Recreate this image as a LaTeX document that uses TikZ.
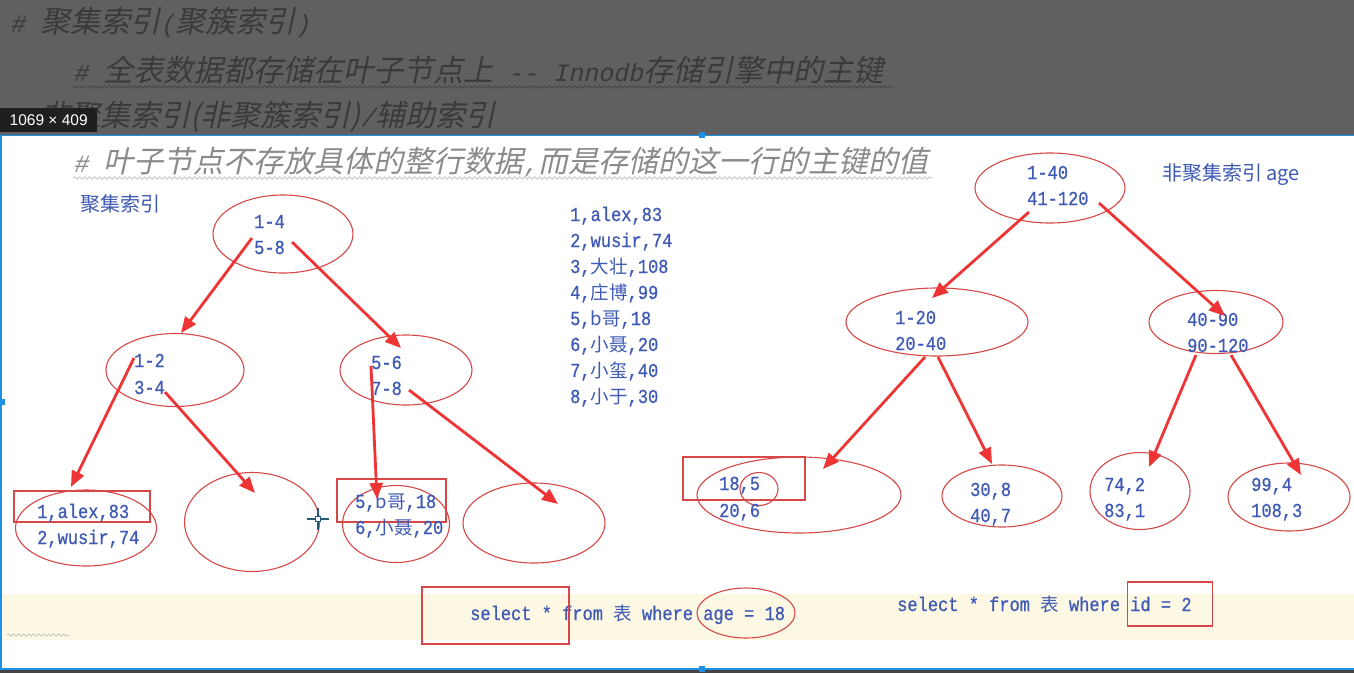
\documentclass[tikz,border=0pt]{standalone}
\usepackage{fontspec}
\setmonofont{Liberation Mono}[FakeStretch=0.86, FakeBold=0.7]
\newfontfamily\cjk{Noto Sans CJK SC}
\newfontfamily\cjkit{Noto Sans CJK SC}[FakeSlant=0.22]
\newfontfamily\monoit{Liberation Mono}[FakeSlant=0.22]
\newfontfamily\uisans{Liberation Sans}
\usetikzlibrary{shapes.geometric,arrows.meta,decorations.pathmorphing}
\definecolor{inkblue}{RGB}{62,90,180}
\definecolor{penred}{RGB}{214,72,72}
\definecolor{arrowred}{RGB}{238,52,52}
\definecolor{darkbg}{RGB}{96,96,96}
\definecolor{dimtext}{RGB}{58,58,58}
\definecolor{graytext}{RGB}{138,138,138}
\definecolor{selblue}{RGB}{30,144,230}
\definecolor{bandyellow}{RGB}{253,248,228}
\definecolor{cursorteal}{RGB}{40,90,115}
\newcommand\hl[1]{{\fontsize{25}{25}\selectfont\monoit #1}}
\newcommand\hz[1]{{\fontsize{30}{30}\selectfont\cjkit #1}}
\newcommand\zh[1]{{\cjk\fontsize{18.5}{18.5}\selectfont #1}}
\tikzset{
  oval/.style={draw=penred, line width=1.1pt, ellipse, inner sep=0pt},
  redbox/.style={draw=penred, line width=1.2pt},
  redarrow/.style={draw=arrowred, line width=2.8pt, -{Triangle[length=16pt,width=13pt]}},
  bluetext/.style={text=inkblue, font=\fontsize{19.8}{19.8}\selectfont\ttfamily, anchor=base west, inner sep=0pt},
  cjklabel/.style={text=inkblue, font=\cjk\fontsize{20}{20}\selectfont, anchor=base west, inner sep=0pt},
  headtext/.style={anchor=base west, inner sep=0pt},
  wavy/.style={line width=0.7pt, decorate, decoration={snake, amplitude=1.3pt, segment length=5pt}}
}
\begin{document}
\begin{tikzpicture}[x=1pt,y=-1pt]
\useasboundingbox (0,0) rectangle (1354,673);
% backgrounds
\fill[darkbg] (0,0) rectangle (1354,136);
\fill[white] (0,136) rectangle (1354,670);
\fill[darkbg!70!black] (0,670) rectangle (1354,673);
\fill[bandyellow] (3,594) rectangle (1354,640);
% headings in dimmed area
\node[headtext, text=dimtext] (h1) at (10,32) {\hl{\# }\hz{聚集索引}\hl{(}\hz{聚簇索引}\hl{)}};
\node[headtext, text=dimtext] (h2) at (73,81) {\hl{\# }\hz{全表数据都存储在叶子节点上}\hl{ -{}- Innodb}\hz{存储引擎中的主键}};
\draw[wavy, draw=dimtext!80!darkbg] (73,87) -- (893,87);
\node[headtext, text=dimtext] (h3) at (10,126) {\hl{\# }\hz{非聚集索引(非聚簇索引)}\hl{/}\hz{辅助索引}};
\node[headtext, text=graytext] (h4) at (73,172) {\hl{\# }\hz{叶子节点不存放具体的整行数据}\hl{,}\hz{而是存储的这一行的主键的值}};
\draw[wavy, draw=black!25] (73,178) -- (933,178);
\draw[wavy, draw=black!25] (7,635) -- (70,635);
% size label
\node[fill=black!88, text=white, font=\uisans\fontsize{15.5}{15.5}\selectfont, inner sep=0pt, minimum width=97pt, minimum height=24pt, anchor=north west] (sizelabel) at (0,108) {1069 × 409};
% selection frame
\draw[selblue, line width=1.6pt] (0,135.5) -- (1354,135.5);
\draw[selblue, line width=2.5pt] (1.2,135) -- (1.2,670);
\draw[selblue, line width=1.6pt] (0,669) -- (1354,669);
\fill[selblue] (699,132) rectangle (705,138);
\fill[selblue] (0,399) rectangle (5,405);
\fill[selblue] (699,666) rectangle (705,672);

% ===== left tree (clustered index) =====
\node[cjklabel] (lbl1) at (80,211) {聚集索引};
\node[oval, minimum width=140pt, minimum height=78pt] (r1) at (283,234) {};
\node[bluetext] (r1a) at (254,228) {1-4};
\node[bluetext] (r1b) at (254,254) {5-8};
\node[oval, minimum width=138pt, minimum height=73pt] (n12) at (175,370) {};
\node[bluetext] (n12a) at (134,367) {1-2};
\node[bluetext] (n12b) at (134,394) {3-4};
\node[oval, minimum width=132pt, minimum height=70pt] (n56) at (406,370) {};
\node[bluetext] (n56a) at (371,369) {5-6};
\node[bluetext] (n56b) at (371,395) {7-8};
% leaves
\node[oval, minimum width=141pt, minimum height=76pt] (lf1) at (86,528) {};
\node[redbox, minimum width=136pt, minimum height=31pt, inner sep=0pt] (bx1) at (82,506.5) {};
\node[bluetext] (lf1a) at (37,518) {1,alex,83};
\node[bluetext] (lf1b) at (37,544) {2,wusir,74};
\node[oval, minimum width=135pt, minimum height=99pt] (lf2) at (252,522) {};
\node[oval, minimum width=107pt, minimum height=77pt] (lf3) at (396,524) {};
\node[redbox, minimum width=109pt, minimum height=43pt, inner sep=0pt] (bx3) at (391.5,500.5) {};
\node[bluetext] (lf3a) at (355,508) {5,\zh{b哥},18};
\node[bluetext] (lf3b) at (355,534) {6,\zh{小聂},20};
\node[oval, minimum width=142pt, minimum height=80pt] (lf4) at (534,523) {};
% data list
\foreach \i/\t [count=\k from 0] in {1/{1,alex,83},2/{2,wusir,74},3/{3,\zh{大壮},108},4/{4,\zh{庄博},99},5/{5,\zh{b哥},18},6/{6,\zh{小聂},20},7/{7,\zh{小玺},40},8/{8,\zh{小于},30}}
  \node[bluetext] (row\i) at (570,{221+26*\k}) {\t};
% arrows left tree
\coordinate (a1s) at (252,238); \coordinate (a1e) at (181,333);
\coordinate (a2s) at (292,242); \coordinate (a2e) at (401,348);
\coordinate (a3s) at (134,358); \coordinate (a3e) at (71,487);
\coordinate (a4s) at (165,392); \coordinate (a4e) at (255,493);
\coordinate (a5s) at (371,366); \coordinate (a5e) at (377,499);
\coordinate (a6s) at (409,390); \coordinate (a6e) at (558,504);
\draw[redarrow] (a1s) -- (a1e);
\draw[redarrow] (a2s) -- (a2e);
\draw[redarrow] (a3s) -- (a3e);
\draw[redarrow] (a4s) -- (a4e);
\draw[redarrow] (a5s) -- (a5e);
\draw[redarrow] (a6s) -- (a6e);
% cursor
\draw[cursorteal, line width=1.4pt] (307,519) -- (329,519) (318,508) -- (318,530);
\draw[cursorteal, line width=1pt, fill=white] (315.5,516.5) rectangle (320.5,521.5);

% ===== right tree (secondary index) =====
\node[cjklabel] (lbl2) at (1162,180) {非聚集索引 age};
\node[oval, minimum width=150pt, minimum height=70pt] (r2) at (1050,188) {};
\node[bluetext] (r2a) at (1027,179) {1-40};
\node[bluetext] (r2b) at (1027,205) {41-120};
\node[oval, minimum width=182pt, minimum height=68pt] (n120) at (937,322) {};
\node[bluetext] (n120a) at (895,324) {1-20};
\node[bluetext] (n120b) at (895,350) {20-40};
\node[oval, minimum width=134pt, minimum height=63pt] (n4090) at (1216,322) {};
\node[bluetext] (n4090a) at (1187,326) {40-90};
\node[bluetext] (n4090b) at (1187,352) {90-120};
% leaves
\node[oval, minimum width=204pt, minimum height=76pt] (rl1) at (799,495) {};
\node[redbox, minimum width=122pt, minimum height=43pt, inner sep=0pt] (bx5) at (744,478.5) {};
\node[oval, minimum width=38pt, minimum height=33pt] (sm) at (759,489) {};
\node[bluetext] (rl1a) at (719,490) {18,5};
\node[bluetext] (rl1b) at (719,517) {20,6};
\node[oval, minimum width=120pt, minimum height=62pt] (rl2) at (1002,496) {};
\node[bluetext] (rl2a) at (970,496) {30,8};
\node[bluetext] (rl2b) at (970,522) {40,7};
\node[oval, minimum width=100pt, minimum height=77pt] (rl3) at (1140,491) {};
\node[bluetext] (rl3a) at (1104,491) {74,2};
\node[bluetext] (rl3b) at (1104,517) {83,1};
\node[oval, minimum width=122pt, minimum height=68pt] (rl4) at (1289,497) {};
\node[bluetext] (rl4a) at (1251,491) {99,4};
\node[bluetext] (rl4b) at (1251,517) {108,3};
% arrows right tree
\coordinate (b1s) at (1029,212); \coordinate (b1e) at (932,298);
\coordinate (b2s) at (1099,203); \coordinate (b2e) at (1225,316);
\coordinate (b3s) at (925,357); \coordinate (b3e) at (823,469);
\coordinate (b4s) at (938,357); \coordinate (b4e) at (992,464);
\coordinate (b5s) at (1196,355); \coordinate (b5e) at (1149,467);
\coordinate (b6s) at (1231,355); \coordinate (b6e) at (1301,475);
\draw[redarrow] (b1s) -- (b1e);
\draw[redarrow] (b2s) -- (b2e);
\draw[redarrow] (b3s) -- (b3e);
\draw[redarrow] (b4s) -- (b4e);
\draw[redarrow] (b5s) -- (b5e);
\draw[redarrow] (b6s) -- (b6e);

% ===== queries =====
\node[bluetext] (q1) at (470,620) {select * from \zh{表} where age = 18};
\node[redbox, minimum width=147pt, minimum height=57pt, inner sep=0pt] (bx6) at (495.5,615.5) {};
\node[oval, minimum width=98pt, minimum height=50pt] (agecirc) at (746,613) {};
\node[bluetext] (q2) at (897,611) {select * from \zh{表} where id = 2};
\node[redbox, minimum width=85pt, minimum height=44pt, inner sep=0pt] (bx7) at (1170,604) {};
\end{tikzpicture}
\end{document}
